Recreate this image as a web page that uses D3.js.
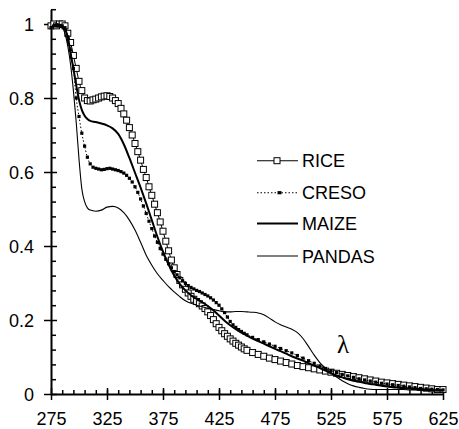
<!DOCTYPE html>
<html>
<head>
<meta charset="utf-8">
<script src="https://cdnjs.cloudflare.com/ajax/libs/d3/7.8.5/d3.min.js"></script>
<style>
  body { margin: 0; background: #fff; }
  text { font-family: "Liberation Sans", Arial, sans-serif; font-size: 18px; fill: #000; }
</style>
</head>
<body>
<div id="chart"></div>
<script>
// Wavelength grids (nm)
const fineX = [275, 277.5, 280, 282.5, 285, 287.5, 290, 292.5, 295, 297.5, 300, 302.5, 305, 307.5, 310, 312.5,
  315, 317.5, 320, 322.5, 325, 327.5, 330, 332.5, 335, 337.5, 340, 342.5, 345, 347.5, 350, 352.5, 355, 357.5,
  360, 362.5, 365, 367.5, 370, 372.5, 375, 377.5, 380, 382.5, 385, 387.5, 390, 392.5, 395, 397.5, 400, 402.5,
  405, 407.5, 410, 412.5, 415, 417.5, 420, 422.5, 425, 427.5, 430, 432.5, 435, 437.5, 440, 442.5, 445, 447.5,
  450, 455, 460, 465, 470, 475, 480, 485, 490, 495, 500, 505, 510, 515, 520, 525, 530, 535, 540, 545, 550,
  555, 560, 565, 570, 575, 580, 585, 590, 595, 600, 605, 610, 615, 620, 625];
const lineX = [275, 280, 285, 290, 292.5, 295, 297.5, 300, 302.5, 305, 307.5, 310, 315, 320, 325, 330, 335,
  340, 345, 350, 355, 360, 365, 370, 375, 380, 385, 390, 395, 400, 405, 410, 415, 420, 425, 430, 435, 440,
  445, 450, 455, 460, 465, 470, 475, 480, 485, 490, 495, 500, 505, 510, 515, 520, 525, 530, 535, 540, 545,
  550, 555, 560, 565, 570, 575, 580, 585, 590, 595, 600, 605, 610, 615, 620, 625];

// Normalised absorbance
const rice = [0.995, 1.0, 0.995, 1.0, 1.0, 0.995, 0.975, 0.95, 0.915, 0.88, 0.845, 0.82, 0.80, 0.793, 0.792,
  0.795, 0.797, 0.80, 0.803, 0.805, 0.806, 0.804, 0.80, 0.793, 0.785, 0.772, 0.757, 0.74, 0.72, 0.70, 0.677,
  0.655, 0.632, 0.607, 0.585, 0.56, 0.537, 0.513, 0.49, 0.465, 0.44, 0.413, 0.387, 0.362, 0.341, 0.323, 0.307,
  0.295, 0.283, 0.273, 0.264, 0.256, 0.25, 0.244, 0.238, 0.231, 0.222, 0.212, 0.201, 0.19, 0.18, 0.171, 0.163,
  0.156, 0.149, 0.143, 0.137, 0.132, 0.127, 0.122, 0.118,
  0.112, 0.107, 0.102, 0.097, 0.093, 0.089, 0.085, 0.081, 0.077, 0.074, 0.071, 0.068, 0.065, 0.062, 0.059,
  0.056, 0.053, 0.05, 0.047, 0.044, 0.041, 0.038, 0.035, 0.032, 0.03, 0.028, 0.026, 0.024, 0.022, 0.02,
  0.018, 0.016, 0.014, 0.012, 0.012];
const creso = [0.99, 0.995, 0.995, 0.995, 0.995, 0.99, 0.965, 0.93, 0.88, 0.80, 0.75, 0.705, 0.67, 0.64, 0.622,
  0.613, 0.61, 0.608, 0.606, 0.607, 0.609, 0.61, 0.608, 0.606, 0.604, 0.601, 0.597, 0.591, 0.583, 0.573, 0.56,
  0.545, 0.527, 0.508, 0.488, 0.467, 0.447, 0.427, 0.41, 0.393, 0.378, 0.364, 0.352, 0.341, 0.331, 0.322, 0.314,
  0.306, 0.299, 0.293, 0.288, 0.284, 0.28, 0.277, 0.273, 0.269, 0.265, 0.26, 0.254, 0.247, 0.24, 0.23, 0.22,
  0.208, 0.196, 0.187, 0.18, 0.174, 0.169, 0.164, 0.16,
  0.153, 0.147, 0.141, 0.135, 0.129, 0.123, 0.117, 0.111, 0.104, 0.097, 0.09, 0.083, 0.076, 0.069, 0.063,
  0.058, 0.053, 0.049, 0.045, 0.041, 0.038, 0.035, 0.032, 0.029, 0.027, 0.025, 0.023, 0.021, 0.019, 0.017,
  0.015, 0.014, 0.013, 0.012, 0.011];
const maize = [0.99, 1.0, 0.995, 0.965, 0.92, 0.88, 0.835, 0.795, 0.768, 0.752, 0.743, 0.738, 0.735, 0.731,
  0.726, 0.718, 0.703, 0.675, 0.638, 0.598, 0.558, 0.515, 0.47, 0.425, 0.385, 0.35, 0.32, 0.297, 0.28, 0.267,
  0.257, 0.248, 0.238, 0.226, 0.212, 0.198, 0.186, 0.175, 0.166, 0.158, 0.15, 0.143, 0.136, 0.129, 0.122,
  0.116, 0.109, 0.102, 0.096, 0.09, 0.083, 0.077, 0.07, 0.063, 0.056, 0.05, 0.045, 0.04, 0.036, 0.033, 0.03,
  0.027, 0.025, 0.022, 0.02, 0.018, 0.017, 0.016, 0.015, 0.014, 0.013, 0.012, 0.011, 0.01, 0.01];
const pandas = [0.99, 0.995, 0.99, 0.94, 0.89, 0.82, 0.735, 0.635, 0.555, 0.52, 0.503, 0.497, 0.494, 0.497,
  0.505, 0.507, 0.503, 0.49, 0.47, 0.443, 0.41, 0.375, 0.348, 0.325, 0.307, 0.29, 0.276, 0.263, 0.252, 0.245,
  0.24, 0.236, 0.232, 0.228, 0.225, 0.222, 0.222, 0.223, 0.223, 0.222, 0.221, 0.219, 0.214, 0.205, 0.195,
  0.187, 0.181, 0.175, 0.166, 0.15, 0.128, 0.105, 0.085, 0.07, 0.057, 0.046, 0.036, 0.028, 0.022, 0.018,
  0.015, 0.013, 0.012, 0.012, 0.012, 0.012, 0.012, 0.012, 0.011, 0.011, 0.01, 0.009, 0.009, 0.008, 0.008];

// Axis ticks
const xTicks = [275, 325, 375, 425, 475, 525, 575, 625];
const yTicks = [0, 0.2, 0.4, 0.6, 0.8, 1];
const legendNames = ["RICE", "CRESO", "MAIZE", "PANDAS"];

const w = 459;
const h = 429;

const xScale = d3.scaleLinear().domain([275, 625]).range([51, 443]);
const yScale = d3.scaleLinear().domain([0, 1.04]).range([394, 9.2]);

const svg = d3.select("#chart")
  .append("svg")
  .attr("width", w)
  .attr("height", h);

const toPts = (xs, ys) => xs.map((x, i) => [x, ys[i]]);
const line = d3.line()
  .x(d => xScale(d[0]))
  .y(d => yScale(d[1]))
  .curve(d3.curveMonotoneX);

// Minor ticks every 10 nm / 0.04
const xMinor = d3.range(285, 625, 10);
const yMinor = d3.range(0.04, 1.05, 0.04).filter(v => Math.abs(v * 5 - Math.round(v * 5)) > 1e-6);

// X axis
const xg = svg.append("g")
  .attr("transform", "translate(0,394)")
  .call(d3.axisBottom(xScale).tickValues(xTicks).tickSizeOuter(0).tickFormat(d => d));
xg.selectAll(".tick line").attr("y1", -6).attr("y2", 6);
xg.selectAll(".tick text").attr("y", 31).attr("dy", 0);
svg.append("g")
  .attr("transform", "translate(0,394)")
  .call(d3.axisBottom(xScale).tickValues(xMinor).tickSize(-4).tickSizeOuter(0).tickFormat(""))
  .select(".domain").remove();

// Y axis
const yg = svg.append("g")
  .attr("transform", "translate(51,0)")
  .call(d3.axisLeft(yScale).tickValues(yTicks).tickSizeOuter(0).tickFormat(d => d));
yg.selectAll(".tick line").attr("x1", -7).attr("x2", 6);
yg.selectAll(".tick text").attr("x", -17).attr("dy", "0.35em");
svg.append("g")
  .attr("transform", "translate(51,0)")
  .call(d3.axisLeft(yScale).tickValues(yMinor).tickSize(-5).tickSizeOuter(0).tickFormat(""))
  .select(".domain").remove();

svg.selectAll(".domain").attr("stroke-width", 2);
svg.selectAll(".tick line").attr("stroke-width", 1.5);
svg.selectAll(".tick text").attr("font-size", 18).attr("font-family", "Liberation Sans, Arial, sans-serif");

// RICE: line with open squares
const ricePts = toPts(fineX, rice);
svg.append("path")
  .attr("d", line(ricePts))
  .attr("fill", "none")
  .attr("stroke", "#000")
  .attr("stroke-width", 1);
svg.selectAll(".rice")
  .data(ricePts)
  .enter()
  .append("rect")
  .attr("class", "rice")
  .attr("x", d => xScale(d[0]) - 3)
  .attr("y", d => yScale(d[1]) - 3)
  .attr("width", 6)
  .attr("height", 6)
  .attr("fill", "#fff")
  .attr("stroke", "#000")
  .attr("stroke-width", 1);

// CRESO: dotted line with small filled squares
const cresoPts = toPts(fineX, creso);
svg.append("path")
  .attr("d", line(cresoPts))
  .attr("fill", "none")
  .attr("stroke", "#000")
  .attr("stroke-width", 1)
  .attr("stroke-dasharray", "1.5,2");
svg.selectAll(".creso")
  .data(cresoPts)
  .enter()
  .append("rect")
  .attr("class", "creso")
  .attr("x", d => xScale(d[0]) - 1.6)
  .attr("y", d => yScale(d[1]) - 1.6)
  .attr("width", 3.2)
  .attr("height", 3.2)
  .attr("fill", "#000");

// MAIZE: thick line
svg.append("path")
  .attr("d", line(toPts(lineX, maize)))
  .attr("fill", "none")
  .attr("stroke", "#000")
  .attr("stroke-width", 2);

// PANDAS: thin line
svg.append("path")
  .attr("d", line(toPts(lineX, pandas)))
  .attr("fill", "none")
  .attr("stroke", "#000")
  .attr("stroke-width", 1.1);

// Legend
const legendY = [160.7, 192.7, 223.5, 256];
legendNames.forEach((name, i) => {
  const y = legendY[i];
  const g = svg.append("g");
  const ln = g.append("line")
    .attr("x1", 257).attr("x2", 298)
    .attr("y1", y).attr("y2", y)
    .attr("stroke", "#000")
    .attr("stroke-width", i === 2 ? 2 : 1.1);
  if (i === 1) ln.attr("stroke-dasharray", "1.5,2");
  if (i === 0) {
    g.append("rect").attr("x", 274).attr("y", y - 3).attr("width", 6).attr("height", 6)
      .attr("fill", "#fff").attr("stroke", "#000");
  }
  if (i === 1) {
    g.append("rect").attr("x", 277.5).attr("y", y - 1.6).attr("width", 4).attr("height", 3.2)
      .attr("fill", "#000");
  }
  g.append("text")
    .attr("x", 302)
    .attr("y", y + 6.6)
    .text(name);
});

// Lambda label
svg.append("text")
  .attr("x", 337)
  .attr("y", 353)
  .style("font-family", "Liberation Serif, DejaVu Serif, serif")
  .style("font-size", "25px")
  .text("λ");
</script>
</body>
</html>
